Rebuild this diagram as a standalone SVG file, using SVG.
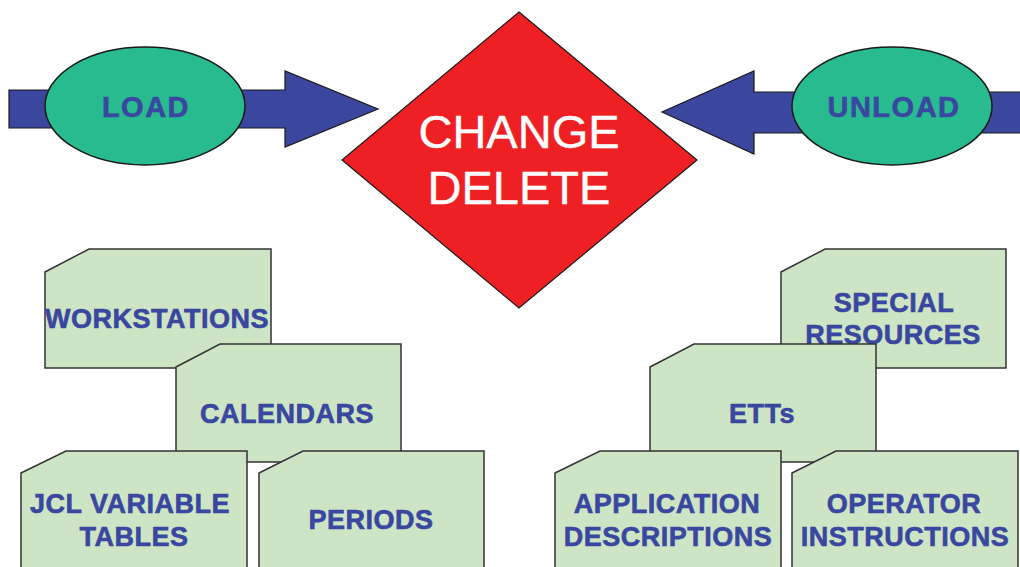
<svg xmlns="http://www.w3.org/2000/svg" width="1020" height="567" viewBox="0 0 1020 567">
<style>
.arrow{fill:#3b479e;stroke:#1a1a1a;stroke-width:1.2}
.oval{fill:#28bb8f;stroke:#1a1a1a;stroke-width:1.5}
.card{fill:#cde5c4;stroke:#333;stroke-width:1.5}
.lbl{font-family:"Liberation Sans",Arial,sans-serif;font-weight:bold;fill:#3a47a0;stroke:#3a47a0;stroke-width:0.6;text-anchor:middle}
.cl{font-size:27px;letter-spacing:0.5px}
.ol{font-size:29px;letter-spacing:1.5px}
.dl{font-family:"Liberation Sans",Arial,sans-serif;font-size:47px;fill:#fff;stroke:#fff;stroke-width:0.4;text-anchor:middle}
</style>
<rect width="1020" height="567" fill="#fff"/>
<g id="connectors">
<polygon class="arrow" points="9,90 285,90 285,71 378,109 285,147 285,128 9,128"/>
<polygon class="arrow" points="1022,92 754,92 754,71 662,112 754,154 754,133 1022,133"/>
</g>
<g id="load">
<ellipse class="oval" cx="145" cy="106" rx="100" ry="59"/>
<text class="lbl ol" x="146" y="117">LOAD</text>
</g>
<g id="unload">
<ellipse class="oval" cx="892" cy="106" rx="100" ry="59"/>
<text class="lbl ol" x="894" y="117">UNLOAD</text>
</g>
<g id="change-delete">
<polygon points="519,12 697,160 519,308 342,160" fill="#ee2024" stroke="#1a1a1a" stroke-width="1.2"/>
<text class="dl" x="519" y="148">CHANGE</text>
<text class="dl" x="519" y="204">DELETE</text>
</g>
<g id="workstations">
<polygon class="card" points="45,272 89,249 271,249 271,368 45,368"/>
<text class="lbl cl" x="157" y="328">WORKSTATIONS</text>
</g>
<g id="calendars">
<polygon class="card" points="176,367 220,344 401,344 401,462 176,462"/>
<text class="lbl cl" x="287" y="423">CALENDARS</text>
</g>
<g id="jcl-variable-tables">
<polygon class="card" points="21,473 66,451 247,451 247,570 21,570"/>
<text class="lbl cl" x="130" y="513">JCL VARIABLE</text>
<text class="lbl cl" x="134" y="546">TABLES</text>
</g>
<g id="periods">
<polygon class="card" points="259,473 303,451 484,451 484,570 259,570"/>
<text class="lbl cl" x="371" y="529">PERIODS</text>
</g>
<g id="special-resources">
<polygon class="card" points="781,272 825,249 1006,249 1006,368 781,368"/>
<text class="lbl cl" x="894" y="312">SPECIAL</text>
<text class="lbl cl" x="893" y="344">RESOURCES</text>
</g>
<g id="etts">
<polygon class="card" points="650,367 694,344 876,344 876,462 650,462"/>
<text class="lbl cl" x="762" y="423">ETTs</text>
</g>
<g id="application-descriptions">
<polygon class="card" points="555,473 600,451 781,451 781,570 555,570"/>
<text class="lbl cl" x="667" y="513">APPLICATION</text>
<text class="lbl cl" x="668" y="546">DESCRIPTIONS</text>
</g>
<g id="operator-instructions">
<polygon class="card" points="792,473 836,451 1018,451 1018,570 792,570"/>
<text class="lbl cl" x="904" y="513">OPERATOR</text>
<text class="lbl cl" x="905" y="546">INSTRUCTIONS</text>
</g>
</svg>
